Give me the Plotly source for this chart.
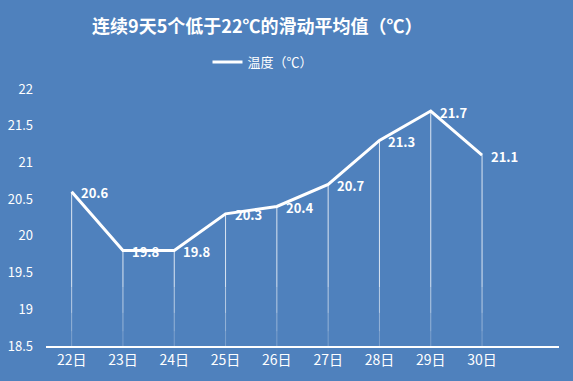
import plotly.graph_objects as go

categories = ["22日", "23日", "24日", "25日", "26日", "27日", "28日", "29日", "30日"]
values = [20.6, 19.8, 19.8, 20.3, 20.4, 20.7, 21.3, 21.7, 21.1]
y_ticks = [18.5, 19, 19.5, 20, 20.5, 21, 21.5, 22]
series_name = "温度（℃）"
title = "连续9天5个低于22℃的滑动平均值（℃）"

BG = "#4F81BD"
FONT = "Noto Sans CJK SC, Liberation Sans, sans-serif"
ymin = y_ticks[0]

fig = go.Figure()

# drop lines (fading toward the axis)
fade = [(0.0, 0.2, 0.25), (0.2, 0.45, 0.4), (0.45, 0.8, 0.6)]
for lo, hi, op in fade:
    dx, dy = [], []
    for c, v in zip(categories, values):
        dx += [c, c, None]
        dy += [ymin + lo, ymin + hi, None]
    fig.add_trace(go.Scatter(x=dx, y=dy, mode="lines", line=dict(color=f"rgba(255,255,255,{op})", width=1),
                             showlegend=False, hoverinfo="skip"))
dx, dy = [], []
for c, v in zip(categories, values):
    dx += [c, c, None]
    dy += [ymin + 0.8, v, None]
fig.add_trace(go.Scatter(x=dx, y=dy, mode="lines", line=dict(color="rgba(255,255,255,0.8)", width=1),
                         showlegend=False, hoverinfo="skip"))

fig.add_trace(go.Scatter(
    x=categories, y=values, mode="lines", name=series_name,
    line=dict(color="white", width=3),
))

for c, v in zip(categories, values):
    fig.add_annotation(x=c, y=v, text=f"<b>{v:.1f}</b>", showarrow=False, xanchor="left",
                       yanchor="middle", xshift=7, yshift=-1,
                       font=dict(size=13, color="white", family=FONT))

fig.update_layout(
    width=573, height=381,
    paper_bgcolor=BG, plot_bgcolor=BG,
    margin=dict(l=46, r=14, t=89, b=35, autoexpand=False),
    font=dict(family=FONT, color="white", size=12),
    title=dict(text=f"<b>{title}</b>", x=0.449, xref="container", xanchor="center", y=0.93,
               yanchor="middle", yref="container", font=dict(size=18, color="white", family=FONT)),
    legend=dict(orientation="h", x=0.423, xanchor="center", y=1.105, yanchor="middle",
                font=dict(size=13, color="white"), bgcolor="rgba(0,0,0,0)", itemwidth=30),
    xaxis=dict(type="category", range=[-0.5, 9.5], showgrid=False, showline=True,
               linecolor="white", linewidth=1.5, ticks="", tickfont=dict(size=14, color="white"),
               zeroline=False, automargin=False),
    yaxis=dict(range=[18.5, 22], tickvals=y_ticks, ticktext=[f"{t:g}" for t in y_ticks],
               showgrid=False, showline=False, zeroline=False, ticks="",
               tickfont=dict(size=13, color="white"), ticklabelstandoff=12, automargin=False),
)

fig.write_html("out.html", config={"displayModeBar": False},
               post_script="document.body.style.margin='0';document.body.style.background='" + BG + "';")
